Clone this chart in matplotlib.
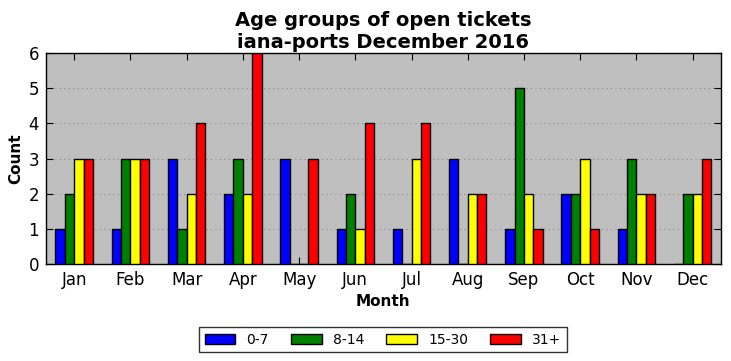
import numpy as np
import matplotlib.pyplot as plt

months = ['Jan', 'Feb', 'Mar', 'Apr', 'May', 'Jun', 'Jul', 'Aug', 'Sep', 'Oct', 'Nov', 'Dec']
groups = ['0-7', '8-14', '15-30', '31+']
age_0_7 = [1, 1, 3, 2, 3, 1, 1, 3, 1, 2, 1, 0]
age_8_14 = [2, 3, 1, 3, 0, 2, 0, 0, 5, 2, 3, 2]
age_15_30 = [3, 3, 2, 2, 0, 1, 3, 2, 2, 3, 2, 2]
age_31 = [3, 3, 4, 6, 3, 4, 4, 2, 1, 1, 2, 3]
colors = ['blue', 'green', 'yellow', 'red']

series = [age_0_7, age_8_14, age_15_30, age_31]

fig = plt.figure(figsize=(7.31, 3.61), dpi=100)
ax = fig.add_axes([0.063, 0.268, 0.923, 0.585])
ax.set_facecolor('#bfbfbf')

x = np.arange(len(months))
width = 1 / 6
for i, (vals, name) in enumerate(zip(series, groups)):
    ax.bar(x + (i - 1.5) * width, vals, width, color=colors[i],
           edgecolor='black', linewidth=1, label=name, zorder=3)

ax.set_xlim(-0.5, 11.5)
ax.set_ylim(0, 6)
ax.set_xticks(x)
ax.set_xticklabels(months, fontsize=12)
ax.tick_params(axis='y', labelsize=12, pad=5)
ax.tick_params(axis='x', pad=4.5)
ax.tick_params(direction='in', top=True, right=True, length=5)
ax.yaxis.grid(True, linestyle=(0, (1, 3)), color='#8a8a8a', linewidth=0.8, zorder=0)
ax.set_axisbelow(True)
for s in ax.spines.values():
    s.set_linewidth(1)

ax.set_xlabel('Month', fontsize=11, fontweight='bold', labelpad=4)
ax.set_ylabel('Count', fontsize=11, fontweight='bold')
ax.set_title('Age groups of open tickets\niana-ports December 2016',
             fontsize=14, fontweight='bold', linespacing=1.15, pad=4)

leg = fig.legend(loc='lower center', ncol=4, bbox_to_anchor=(0.524, 0.005),
                 fancybox=False, edgecolor='black', fontsize=10,
                 handlelength=2.2, handletextpad=0.8, columnspacing=1.6,
                 borderpad=0.4)
leg.get_frame().set_linewidth(1)

fig.savefig('out.png', dpi=100)
